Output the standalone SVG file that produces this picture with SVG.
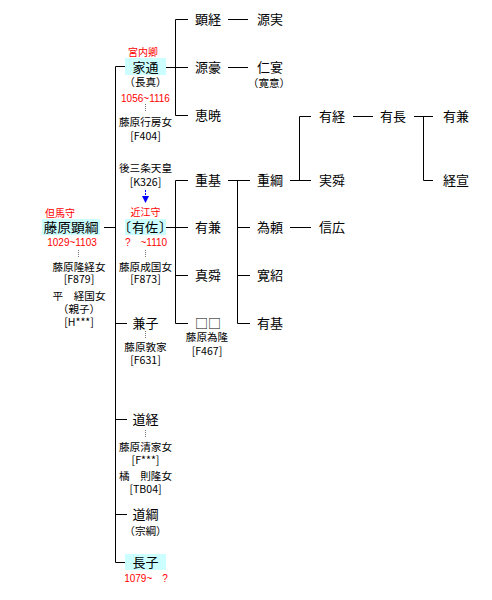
<svg xmlns="http://www.w3.org/2000/svg" width="492" height="600" viewBox="0 0 492 600">
<style>
text{font-family:"Noto Sans CJK JP","Noto Sans",sans-serif;fill:#000}
.n{font-size:13px}
.s{font-size:10.6px;text-anchor:middle}
.r{font-size:10px;fill:#f00;text-anchor:middle;font-family:"Liberation Sans","Noto Sans CJK JP",sans-serif}
.rk{font-size:10px;fill:#f00;text-anchor:middle}
.c{text-anchor:middle}
.b{fill:#ccffff}
.l{stroke:#000;stroke-width:1;fill:none}
.d{stroke:#777;stroke-width:1;stroke-dasharray:1 1}
</style>
<g id="connectors">
<path class="l" d="M115.5 66.5V562.5M104 227.5H115.5M115.5 66.5H125M115.5 323.5H127M115.5 419.5H127M115.5 514.5H127M115.5 562.5H125"/>
<path class="l" d="M166 67.5H175.5M175.5 19.5V115.5M175.5 19.5H188M175.5 67.5H188M175.5 115.5H188"/>
<path class="l" d="M228 19.5H248M228 67.5H248"/>
<path class="l" d="M166 227.5H175.5M175.5 180.5V323.5M175.5 180.5H188M175.5 227.5H188M175.5 275.5H188M175.5 323.5H188"/>
<path class="l" d="M228 180.5H250M237.5 180.5V323.5M237.5 227.5H250M237.5 275.5H250M237.5 323.5H250"/>
<path class="l" d="M290 180.5H311M299.5 116.5V180.5M299.5 116.5H311M290 227.5H311"/>
<path class="l" d="M353 116.5H373M414 116.5H433M423.5 116.5V180.5H433"/>
<path class="d" d="M78.5 250V257M145.5 104V111M145.5 250V257M145.5 331V338M145.5 430V437"/>
<path d="M145.5 190V197" stroke="#00f" stroke-width="1" stroke-dasharray="2 1"/>
<path d="M142 196H149L145.5 203Z" fill="#00f"/>
</g>
<g id="akitsuna">
<text class="rk" x="60" y="217">但馬守</text>
<rect class="b" x="42" y="219" width="58" height="16"/>
<text class="n c" x="71" y="232" font-size="14" textLength="55" lengthAdjust="spacingAndGlyphs">藤原顕綱</text>
<text class="r" x="72" y="246">1029~1103</text>
<text class="s" x="79" y="271">藤原隆経女</text>
<text class="s" x="79" y="283">[F879]</text>
<text class="s" x="79" y="300">平　経国女</text>
<text class="s" x="79" y="313">（親子）</text>
<text class="s" x="79" y="326">[H***]</text>
</g>
<g id="iemichi">
<text class="rk" x="143" y="56">宮内卿</text>
<rect class="b" x="125" y="58" width="41" height="17"/>
<text class="n c" x="145.5" y="71.5">家通</text>
<text class="s" x="145.5" y="86">（長真）</text>
<text class="r" x="145.5" y="102">1056~1116</text>
<text class="s" x="145.5" y="126">藤原行房女</text>
<text class="s" x="145.5" y="140">[F404]</text>
</g>
<g id="arisuke">
<text class="s" x="145.5" y="172">後三条天皇</text>
<text class="s" x="145.5" y="186">[K326]</text>
<text class="rk" x="145.5" y="216">近江守</text>
<rect class="b" x="125" y="219" width="41" height="16"/>
<text class="n" y="231.5"><tspan x="118">〔</tspan><tspan x="132">有佐</tspan><tspan x="159">〕</tspan></text>
<text class="r" x="146" y="246">?　~1110</text>
<text class="s" x="145.5" y="271">藤原成国女</text>
<text class="s" x="145.5" y="283">[F873]</text>
</g>
<g id="kaneko">
<text class="n c" x="145.5" y="328">兼子</text>
<text class="s" x="145.5" y="351">藤原敦家</text>
<text class="s" x="145.5" y="364">[F631]</text>
</g>
<g id="michitsune">
<text class="n c" x="145.5" y="424">道経</text>
<text class="s" x="145.5" y="451">藤原清家女</text>
<text class="s" x="145.5" y="464">[F***]</text>
<text class="s" x="145.5" y="480">橘　則隆女</text>
<text class="s" x="145.5" y="493">[TB04]</text>
</g>
<g id="michitsuna">
<text class="n c" x="145.5" y="519">道綱</text>
<text class="s" x="145.5" y="535">（宗綱）</text>
</g>
<g id="choshi">
<rect class="b" x="125" y="554" width="41" height="16"/>
<text class="n c" x="145.5" y="567">長子</text>
<text class="r" x="146" y="582">1079~　?</text>
</g>
<g id="akitsune"><text class="n" x="195" y="24">顕経</text></g>
<g id="gengo"><text class="n" x="195" y="72">源豪</text></g>
<g id="egyo"><text class="n" x="195" y="120">恵暁</text></g>
<g id="minezane"><text class="n" x="257" y="24">源実</text></g>
<g id="ninen"><text class="n" x="257" y="72">仁宴</text><text class="s" x="269" y="87">（寛意）</text></g>
<g id="shigemoto"><text class="n" x="195" y="185">重基</text></g>
<g id="arikane1"><text class="n" x="195" y="232">有兼</text></g>
<g id="shinshun"><text class="n" x="195" y="280">真舜</text></g>
<g id="unknown"><text class="n" x="195" y="328">□□</text><text class="s" x="207" y="341">藤原為隆</text><text class="s" x="207" y="355">[F467]</text></g>
<g id="shigetsuna"><text class="n" x="257" y="185">重綱</text></g>
<g id="tameyori"><text class="n" x="257" y="232">為頼</text></g>
<g id="kansho"><text class="n" x="257" y="280">寛紹</text></g>
<g id="arimoto"><text class="n" x="257" y="328">有基</text></g>
<g id="aritsune"><text class="n" x="319" y="121">有経</text></g>
<g id="jitsushun"><text class="n" x="319" y="185">実舜</text></g>
<g id="nobuhiro"><text class="n" x="319" y="232">信広</text></g>
<g id="arinaga"><text class="n" x="380" y="121">有長</text></g>
<g id="arikane2"><text class="n" x="443" y="121">有兼</text></g>
<g id="tsunenobu"><text class="n" x="443" y="185">経宣</text></g>
</svg>
